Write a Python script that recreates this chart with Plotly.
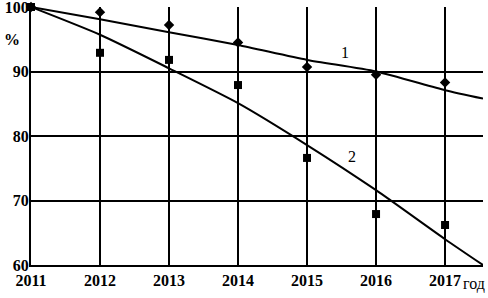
import plotly.graph_objects as go

years = [2011, 2012, 2013, 2014, 2015, 2016, 2017]
series1 = [100, 99.2, 97.2, 94.5, 90.7, 89.5, 88.3]
series2 = [100, 92.9, 91.8, 87.9, 76.6, 67.9, 66.2]
trend_x = [2011, 2012, 2013, 2014, 2015, 2016, 2017, 2017.55]
trend1 = [100, 98.1, 96.1, 94.1, 91.8, 90.0, 87.1, 85.8]
trend2 = [100, 95.7, 90.5, 85.1, 78.6, 71.6, 64.0, 60.0]
y_ticks = [60, 70, 80, 90, 100]

font = dict(family="Liberation Serif", size=16, color="black")
tickfont = dict(family="Liberation Serif", size=16, color="black", weight="bold")

fig = go.Figure()
fig.add_trace(go.Scatter(x=trend_x, y=trend1, mode="lines", line=dict(color="black", width=2, shape="spline", smoothing=0.6)))
fig.add_trace(go.Scatter(x=trend_x, y=trend2, mode="lines", line=dict(color="black", width=2, shape="spline", smoothing=0.6)))
fig.add_trace(go.Scatter(x=years, y=series1, mode="markers", marker=dict(symbol="diamond", size=8, color="black"), cliponaxis=False))
fig.add_trace(go.Scatter(x=years, y=series2, mode="markers", marker=dict(symbol="square", size=8, color="black"), cliponaxis=False))

fig.add_annotation(x=2015.55, y=93.0, text="1", showarrow=False, font=font)
fig.add_annotation(x=2015.65, y=76.8, text="2", showarrow=False, font=font)
fig.add_annotation(x=1, xref="paper", xshift=4, y=0, yref="paper", text="год", showarrow=False,
                   xanchor="right", yanchor="top", yshift=-8, font=font)
fig.add_annotation(x=0, xref="paper", y=94.9, text="%", showarrow=False,
                   xanchor="right", xshift=-9, font=tickfont)

fig.update_layout(
    width=488, height=298,
    margin=dict(l=31, r=5, t=7, b=33),
    paper_bgcolor="white", plot_bgcolor="white",
    showlegend=False,
    font=font,
)
fig.update_xaxes(range=[2011, 2017.55], tickmode="array", tickvals=years,
                 ticktext=[str(y) for y in years], automargin=False,
                 showgrid=True, gridcolor="black", gridwidth=2,
                 showline=True, linecolor="black", linewidth=2,
                 ticks="", zeroline=False, tickfont=tickfont, ticklabelstandoff=0,
                 ticklabeloverflow="allow")
fig.update_yaxes(range=[60, 100.001], tickmode="array", tickvals=y_ticks,
                 ticktext=[str(v) for v in y_ticks], automargin=False,
                 showgrid=True, gridcolor="black", gridwidth=2,
                 showline=True, linecolor="black", linewidth=2,
                 ticks="", zeroline=False, tickfont=tickfont, ticklabelstandoff=-3,
                 ticklabeloverflow="allow")

fig.write_html("out.html", config={"displayModeBar": False},
               post_script="document.body.style.margin='0';")
